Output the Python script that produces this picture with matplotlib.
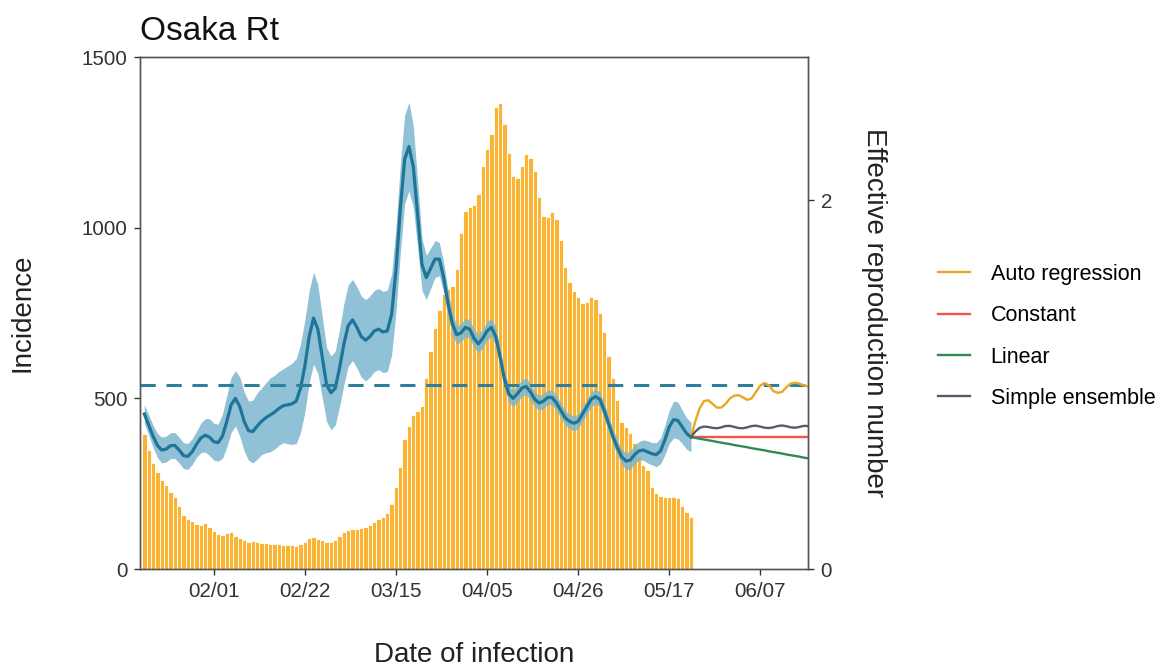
import matplotlib
matplotlib.use("Agg")
import matplotlib.pyplot as plt
import numpy as np
import datetime as dt

plt.rcParams['font.family'] = ['Liberation Sans', 'DejaVu Sans']

# observed period: 2021-01-16 .. 2021-05-22 (daily)
start_day = dt.date(2021, 1, 16)

incidence = [395, 350, 310, 285, 262, 245, 225, 212, 185, 158,
             148, 140, 132, 128, 135, 122, 110, 104, 100, 105,
             108, 98, 90, 84, 80, 82, 78, 77, 76, 74,
             72, 73, 71, 70, 69, 68, 72, 80, 90, 95,
             88, 85, 80, 78, 85, 98, 108, 114, 116, 118,
             120, 124, 130, 138, 146, 152, 165, 190, 240, 300,
             380, 420, 450, 462, 478, 560, 640, 705, 760, 805,
             820, 830, 880, 985, 1050, 1060, 1065, 1100, 1180, 1230,
             1275, 1355, 1365, 1305, 1220, 1150, 1145, 1180, 1215, 1205,
             1165, 1090, 1035, 1030, 1045, 1025, 965, 885, 840, 815,
             797, 780, 782, 797, 790, 750, 695, 625, 560, 495,
             430, 415, 398, 370, 330, 305, 290, 240, 222, 215,
             212, 210, 210, 208, 185, 168, 152]

rt = [0.84, 0.78, 0.72, 0.67, 0.645, 0.65, 0.668, 0.67, 0.645, 0.615,
      0.61, 0.635, 0.675, 0.71, 0.725, 0.715, 0.69, 0.685, 0.72, 0.80,
      0.89, 0.925, 0.88, 0.80, 0.75, 0.745, 0.775, 0.80, 0.82, 0.835,
      0.85, 0.87, 0.885, 0.89, 0.895, 0.91, 0.98, 1.10, 1.26, 1.36,
      1.30, 1.15, 1.00, 0.955, 0.98, 1.09, 1.22, 1.32, 1.35, 1.31,
      1.26, 1.24, 1.26, 1.29, 1.30, 1.285, 1.29, 1.38, 1.62, 1.95,
      2.22, 2.29, 2.18, 1.92, 1.65, 1.58, 1.63, 1.68, 1.68, 1.58,
      1.44, 1.33, 1.27, 1.28, 1.31, 1.30, 1.25, 1.22, 1.25, 1.29,
      1.31, 1.26, 1.15, 1.03, 0.95, 0.925, 0.95, 0.98, 0.99, 0.96,
      0.92, 0.90, 0.91, 0.93, 0.93, 0.90, 0.86, 0.82, 0.80, 0.79,
      0.80, 0.84, 0.88, 0.92, 0.935, 0.92, 0.86, 0.79, 0.72, 0.66,
      0.61, 0.585, 0.59, 0.62, 0.64, 0.645, 0.635, 0.625, 0.62, 0.64,
      0.70, 0.77, 0.81, 0.805, 0.77, 0.735, 0.715]

rt_ci_half = [0.05, 0.055, 0.06, 0.065, 0.07, 0.07, 0.07, 0.07, 0.07, 0.07,
              0.07, 0.07, 0.07, 0.08, 0.09, 0.10, 0.10, 0.10, 0.12, 0.14,
              0.15, 0.15, 0.16, 0.16, 0.16, 0.17, 0.18, 0.18, 0.19, 0.20,
              0.20, 0.20, 0.20, 0.21, 0.22, 0.23, 0.24, 0.25, 0.25, 0.25,
              0.24, 0.22, 0.20, 0.20, 0.20, 0.21, 0.22, 0.22, 0.22, 0.22,
              0.22, 0.22, 0.22, 0.22, 0.22, 0.22, 0.22, 0.22, 0.23, 0.24,
              0.24, 0.24, 0.22, 0.18, 0.14, 0.12, 0.11, 0.10, 0.09, 0.08,
              0.07, 0.06, 0.05, 0.05, 0.05, 0.05, 0.05, 0.05, 0.05, 0.05,
              0.05, 0.05, 0.05, 0.045, 0.045, 0.045, 0.045, 0.045, 0.045, 0.045,
              0.04, 0.04, 0.04, 0.04, 0.04, 0.04, 0.04, 0.04, 0.04, 0.04,
              0.04, 0.04, 0.04, 0.04, 0.04, 0.04, 0.04, 0.04, 0.04, 0.04,
              0.04, 0.045, 0.05, 0.05, 0.05, 0.055, 0.06, 0.06, 0.065, 0.07,
              0.08, 0.09, 0.10, 0.10, 0.09, 0.085, 0.08]

# projections 2021-05-22 .. 2021-06-18
auto_regression = [0.715, 0.80, 0.87, 0.91, 0.915, 0.895, 0.875, 0.875, 0.895, 0.925,
                   0.94, 0.942, 0.93, 0.917, 0.925, 0.96, 0.995, 1.008, 0.995, 0.965,
                   0.955, 0.96, 0.985, 1.005, 1.01, 1.005, 0.995, 0.99]
constant = [0.715] * 28
linear = [0.715, 0.711, 0.706, 0.702, 0.698, 0.694, 0.689, 0.685, 0.681, 0.677,
          0.672, 0.668, 0.664, 0.660, 0.655, 0.651, 0.647, 0.643, 0.638, 0.634,
          0.630, 0.626, 0.621, 0.617, 0.613, 0.609, 0.604, 0.600]
ensemble = [0.715, 0.745, 0.765, 0.772, 0.770, 0.765, 0.763, 0.768, 0.775, 0.776,
            0.770, 0.764, 0.763, 0.768, 0.775, 0.777, 0.772, 0.766, 0.764, 0.768,
            0.775, 0.778, 0.774, 0.768, 0.766, 0.770, 0.776, 0.775]

tick_labels = ["02/01", "02/22", "03/15", "04/05", "04/26", "05/17", "06/07"]

days = [start_day + dt.timedelta(days=i) for i in range(len(incidence))]
proj_start = days[-1]
proj_days = [proj_start + dt.timedelta(days=i) for i in range(len(auto_regression))]

rt = np.array(rt)
half = np.array(rt_ci_half)

fig = plt.figure(figsize=(11.65, 6.66), dpi=100)
ax = fig.add_axes([0.1202, 0.1456, 0.5734, 0.7688])
ax2 = ax.twinx()

ax.bar(days, incidence, width=1.0, color="#F9B335", edgecolor="white", linewidth=0.6)
ax.set_ylim(0, 1500)
ax.set_yticks([0, 500, 1000, 1500])

ax2.fill_between(days, rt - half, rt + half, color="#7DB7CF", alpha=0.85, linewidth=0)
ax2.plot(days, rt, color="#1E7597", linewidth=2.3)
ax2.axhline(1.0, color="#2E7F9E", linewidth=2.2, linestyle=(0, (5, 3.5)))
ax2.plot(proj_days, auto_regression, color="#E7A823", linewidth=1.7, label="Auto regression")
ax2.plot(proj_days, constant, color="#F4544C", linewidth=1.7, label="Constant")
ax2.plot(proj_days, linear, color="#2E8B57", linewidth=1.7, label="Linear")
ax2.plot(proj_days, ensemble, color="#5C5A6A", linewidth=1.7, label="Simple ensemble")
ax2.set_ylim(0, 2.775)
ax2.set_yticks([0, 2])

ax.set_xlim(dt.date(2021, 1, 15) + dt.timedelta(hours=12), dt.date(2021, 6, 18) + dt.timedelta(hours=12))
tick_days = [dt.datetime.strptime("2021/" + t, "%Y/%m/%d") for t in tick_labels]
ax.set_xticks(tick_days)
ax.set_xticklabels(tick_labels)

for a in (ax, ax2):
    a.tick_params(labelsize=14.8, length=4, width=1, colors="#333333", pad=5)
    for s in a.spines.values():
        s.set_color("#555555")
        s.set_linewidth(1.0)

ax.set_ylabel("Incidence", fontsize=20, color="#222222", labelpad=33)
ax.set_xlabel("Date of infection", fontsize=20, color="#222222", labelpad=30)
ax2.set_ylabel("Effective reproduction number", fontsize=20, color="#222222",
               rotation=270, labelpad=21, va="bottom")
ax.set_title("Osaka Rt", loc="left", fontsize=24, color="#111111", pad=12)

fig.legend(loc="center left", bbox_to_anchor=(0.7885, 0.495), frameon=False,
           fontsize=15.5, handlelength=1.5, handletextpad=0.95, labelspacing=0.95)

fig.savefig("out.png", dpi=100)
